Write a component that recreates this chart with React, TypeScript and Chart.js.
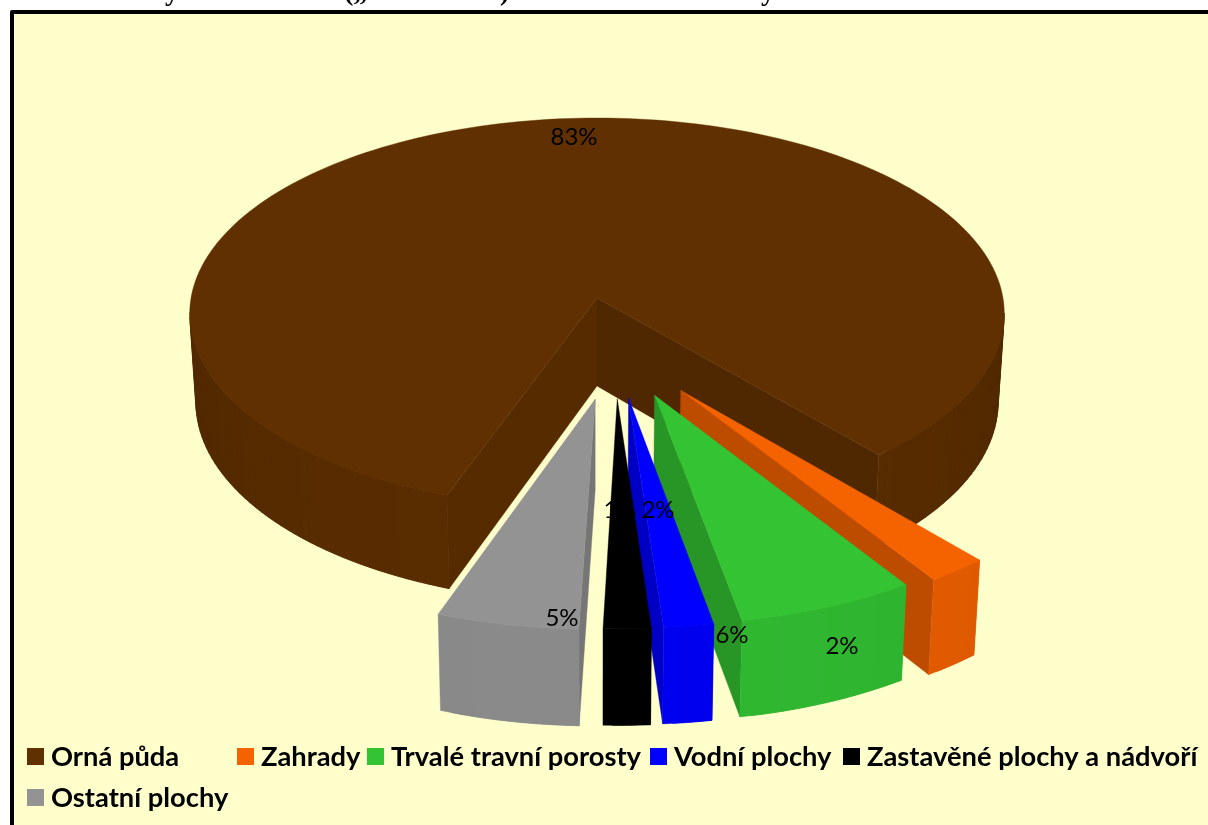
import React, { useEffect, useRef } from "react";
import { Chart, PieController, ArcElement, registerables } from "chart.js";

const categories = ["Orná půda", "Zahrady", "Trvalé travní porosty", "Vodní plochy", "Zastavěné plochy a nádvoří", "Ostatní plochy"];
const shares = [83.14, 2.14, 6.3, 1.75, 1.67, 5.0];
const percentLabels = ["83%", "2%", "6%", "2%", "1%", "5%"];
const sliceColors = ["#603000", "#F56200", "#33C333", "#0000FF", "#000000", "#939393"];
const clippedTitleBits = ["y", "(„", ")", "y"];

// View set-up of the tilted pie
const PAGE_W = 1208;
const PAGE_H = 825;
const CX = 597;
const CY = 298;
const RX = 406;
const RY = 194.4;
const PERSP = 0.08;
const START_ROTATION = 200;
const DEPTH = 88;
const BOTTOM_SX = 0.985;
const BOTTOM_SY = 1.026;
const EXPLODE = 0.5;
const SLICE_DRAW_ORDER = [0, 1, 2, 5, 3, 4];
const LABEL_CENTRES = [[574, 137], [842, 646], [732, 635], [658, 510], [620, 510], [562, 618]];
const LEGEND_FONT = "bold 27.3px Lato";
const LABEL_FONT = "24px Lato";
const TITLE_BIT_X = [165, 344, 500, 761];

type P = [number, number];

function project(x: number, y: number, bottom: boolean): P {
  const k = 1 / (1 - PERSP * y);
  const X = RX * x * k;
  const Y = RY * y * k;
  return bottom
    ? [CX + X * BOTTOM_SX, CY + DEPTH + Y * BOTTOM_SY]
    : [CX + X, CY + Y];
}

function shade(hex: string, f: number): string {
  const n = parseInt(hex.slice(1), 16);
  const c = (v: number) => Math.round(v * f);
  return `rgb(${c((n >> 16) & 255)},${c((n >> 8) & 255)},${c(n & 255)})`;
}

function poly(ctx: CanvasRenderingContext2D, pts: P[], color: string) {
  ctx.beginPath();
  pts.forEach((p, i) => (i ? ctx.lineTo(p[0], p[1]) : ctx.moveTo(p[0], p[1])));
  ctx.closePath();
  ctx.fillStyle = color;
  ctx.strokeStyle = color;
  ctx.lineWidth = 0.4;
  ctx.fill();
  ctx.stroke();
}

class Pie3DController extends PieController {
  static id = "pie3d";
  static defaults = {};

  draw() {
    const ctx = this.chart.ctx as CanvasRenderingContext2D;
    const arcs = this.getMeta().data as any[];
    const colors = this.getDataset().backgroundColor as string[];
    ctx.save();
    ctx.lineJoin = "round";
    SLICE_DRAW_ORDER.forEach((i) => {
      const { startAngle, endAngle } = arcs[i];
      const color = colors[i];
      let ox = 0;
      let oy = 0;
      if (i > 0) {
        // exploded slices: direction follows the bisector, compressed toward the front
        const mid = (startAngle + endAngle) / 2;
        const fromFront = Math.atan2(Math.cos(mid), Math.sin(mid));
        const dir = (5 * Math.PI) / 180 + 0.5 * fromFront;
        ox = EXPLODE * Math.sin(dir);
        oy = EXPLODE * Math.cos(dir);
      }
      const steps = Math.max(4, Math.ceil(((endAngle - startAngle) * 180) / Math.PI / 1.5));
      const rim: [number, number, number][] = [];
      for (let s = 0; s <= steps; s++) {
        const a = startAngle + ((endAngle - startAngle) * s) / steps;
        rim.push([ox + Math.cos(a), oy + Math.sin(a), a]);
      }
      const apexTop = project(ox, oy, false);
      const apexBot = project(ox, oy, true);
      const first = rim[0];
      const last = rim[rim.length - 1];
      const firstTop = project(first[0], first[1], false);
      const lastTop = project(last[0], last[1], false);
      const sideF = i === 0 ? [0.9, 0.82] : [0.8, 0.77];
      // radial faces, only those turned to the viewer
      if (firstTop[0] < apexTop[0]) {
        poly(ctx, [apexTop, firstTop, project(first[0], first[1], true), apexBot], shade(color, sideF[0]));
      }
      if (apexTop[0] < lastTop[0]) {
        poly(ctx, [lastTop, apexTop, apexBot, project(last[0], last[1], true)], shade(color, sideF[1]));
      }
      // outer wall: each strip overlaps the next one so no seam shows
      for (let s = rim.length - 2; s >= 0; s--) {
        const a = rim[s];
        const b = rim[s + 1];
        const ta = project(a[0], a[1], false);
        const tb = project(b[0], b[1], false);
        if (tb[0] >= ta[0]) continue;
        const prev = rim[Math.max(0, s - 1)];
        const tp = project(prev[0], prev[1], false);
        const from = tp[0] > ta[0] ? prev : a;
        const ang = (a[2] + b[2]) / 2;
        const f = 0.82 + 0.12 * Math.max(0, Math.sin(ang));
        poly(
          ctx,
          [project(from[0], from[1], false), tb, project(b[0], b[1], true), project(from[0], from[1], true)],
          shade(color, f)
        );
      }
      // top surface
      poly(ctx, [apexTop, ...rim.map((p) => project(p[0], p[1], false))], color);
    });

    // percentage labels
    ctx.font = LABEL_FONT;
    ctx.fillStyle = "#000";
    ctx.textAlign = "center";
    ctx.textBaseline = "middle";
    percentLabels.forEach((t, i) => {
      ctx.fillText(t, LABEL_CENTRES[i][0], LABEL_CENTRES[i][1]);
    });
    ctx.restore();
  }
}

const framePlugin = {
  id: "frame",
  beforeDraw(chart: any) {
    const ctx = chart.ctx as CanvasRenderingContext2D;
    ctx.save();
    ctx.fillStyle = "#FFFFFF";
    ctx.fillRect(0, 0, PAGE_W, PAGE_H);
    ctx.fillStyle = "#FFFFCC";
    ctx.fillRect(12, 12, PAGE_W, PAGE_H);
    ctx.strokeStyle = "#000";
    ctx.lineWidth = 4;
    ctx.lineJoin = "round";
    ctx.strokeRect(12, 12, PAGE_W + 20, PAGE_H + 20);
    // the bottoms of a title line that the picture's top edge cuts off
    ctx.fillStyle = "#000";
    ctx.font = "bold 28px 'Liberation Serif'";
    ctx.textAlign = "left";
    ctx.textBaseline = "alphabetic";
    clippedTitleBits.forEach((t, i) => ctx.fillText(t, TITLE_BIT_X[i], 0));
    ctx.restore();
  },
};

// x of each swatch, y of each row
const LEGEND_ROWS = [[0, 1, 2, 3, 4], [5]];
const LEGEND_X = [[27, 237, 367, 650, 843], [27]];
const LEGEND_Y = [757, 798];

const legendPlugin = {
  id: "sideLegend",
  afterDatasetsDraw(chart: any) {
    const ctx = chart.ctx as CanvasRenderingContext2D;
    const labels = chart.data.labels as string[];
    const colors = chart.data.datasets[0].backgroundColor as string[];
    ctx.save();
    ctx.font = LEGEND_FONT;
    ctx.textAlign = "left";
    ctx.textBaseline = "middle";
    LEGEND_ROWS.forEach((row, r) => {
      row.forEach((idx, c) => {
        const x = LEGEND_X[r][c];
        const y = LEGEND_Y[r];
        ctx.fillStyle = colors[idx];
        ctx.fillRect(x, y - 9, 17, 17);
        ctx.fillStyle = "#000";
        ctx.fillText(labels[idx], x + 24, y);
      });
    });
    ctx.restore();
  },
};

Chart.register(...registerables, ArcElement, Pie3DController);

export default function App() {
  const ref = useRef<HTMLCanvasElement>(null);
  useEffect(() => {
    document.body.style.margin = "0";
    document.body.style.overflow = "hidden";
    const chart = new Chart(ref.current!, {
      type: "pie3d" as any,
      data: {
        labels: categories,
        datasets: [{ data: shares, backgroundColor: sliceColors, rotation: START_ROTATION, borderWidth: 0 } as any],
      },
      options: {
        responsive: false,
        animation: false,
        rotation: START_ROTATION,
        events: [],
        plugins: { legend: { display: false }, tooltip: { enabled: false }, title: { display: false } },
      } as any,
      plugins: [framePlugin, legendPlugin],
    });
    return () => chart.destroy();
  }, []);
  return <canvas ref={ref} width={PAGE_W} height={PAGE_H} style={{ display: "block", width: PAGE_W, height: PAGE_H }} />;
}
